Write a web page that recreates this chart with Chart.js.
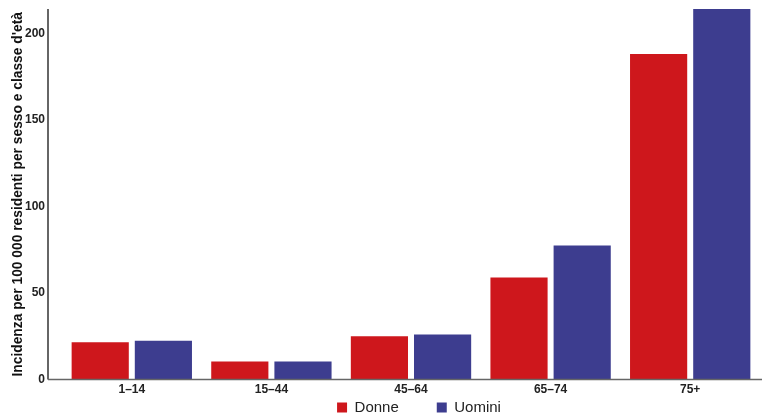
<!DOCTYPE html>
<html>
<head>
<meta charset="utf-8">
<script src="https://cdn.jsdelivr.net/npm/chart.js@4/dist/chart.umd.min.js"></script>
<style>
  html, body { margin: 0; padding: 0; background: #fff; }
  #wrap { width: 762px; height: 415px; }
</style>
</head>
<body>
<div id="wrap"><canvas id="chart"></canvas></div>
<script>
// age classes and incidence per 100 000 residents
const categories = ['1\u201314', '15\u201344', '45\u201364', '65\u201374', '75+'];
const donne = [21.5, 10.5, 25, 59, 188];
const uomini = [22.5, 10.5, 26, 77.5, 214];
const yTicks = [0, 50, 100, 150, 200];

const AXIS_GAP = 14; // axis lines sit left of the first category

// draws the two axis lines a bit outside the category area
const axisLines = {
  id: 'axisLines',
  afterLayout(chart) {
    // nudge the legend a little to the right
    chart.legend.left += 8;
    chart.legend.right += 8;
  },
  afterDraw(chart) {
    const { ctx, chartArea } = chart;
    const x0 = chartArea.left - AXIS_GAP;
    ctx.save();
    ctx.lineWidth = 1.5;
    ctx.strokeStyle = '#333';
    ctx.beginPath();
    ctx.moveTo(x0, chartArea.top);
    ctx.lineTo(x0, chartArea.bottom);
    ctx.stroke();
    ctx.strokeStyle = '#666';
    ctx.beginPath();
    ctx.moveTo(x0, chartArea.bottom);
    ctx.lineTo(chartArea.right + 2, chartArea.bottom);
    ctx.stroke();
    ctx.restore();
  }
};

Chart.defaults.font.family = '"Liberation Sans", Arial, sans-serif';
Chart.defaults.color = '#222';

new Chart(document.getElementById('chart'), {
  type: 'bar',
  data: {
    labels: categories,
    datasets: [
      { label: 'Donne', data: donne, backgroundColor: '#CE171C' },
      { label: 'Uomini', data: uomini, backgroundColor: '#3D3D8F' }
    ]
  },
  options: {
    responsive: true,
    maintainAspectRatio: false,
    animation: false,
    categoryPercentage: 0.905,
    barPercentage: 0.905,
    layout: { padding: { left: 8, top: 9, right: 2, bottom: 0 } },
    plugins: {
      legend: {
        position: 'bottom',
        fullSize: false,
        maxHeight: 15,
        // empty title with negative padding pulls the items up,
        // so the wide item spacing doesn't push them off the canvas
        title: { display: true, text: '', font: { size: 10 }, padding: { top: 0, bottom: -50 } },
        labels: {
          boxWidth: 10,
          boxHeight: 10,
          padding: 38,
          color: '#222',
          font: { size: 15 }
        }
      },
      tooltip: { enabled: false }
    },
    scales: {
      x: {
        grid: { display: false, drawTicks: false },
        border: { display: false },
        ticks: { padding: 3, color: '#222', font: { size: 12, weight: 'bold' } }
      },
      y: {
        min: 0,
        max: 214,
        grid: { display: false, drawTicks: false },
        border: { display: false },
        afterBuildTicks(scale) {
          scale.ticks = yTicks.map(v => ({ value: v }));
        },
        afterFit(scale) {
          scale.width = 54;
          scale.paddingTop = 0;
          scale.paddingBottom = 0;
        },
        ticks: { padding: 17, color: '#222', font: { size: 12, weight: 'bold' } },
        title: {
          display: true,
          text: "Incidenza per 100 000 residenti per sesso e classe d'età",
          color: '#111',
          padding: 2,
          font: { size: 13.8, weight: 'bold' }
        }
      }
    }
  },
  plugins: [axisLines]
});
</script>
</body>
</html>
